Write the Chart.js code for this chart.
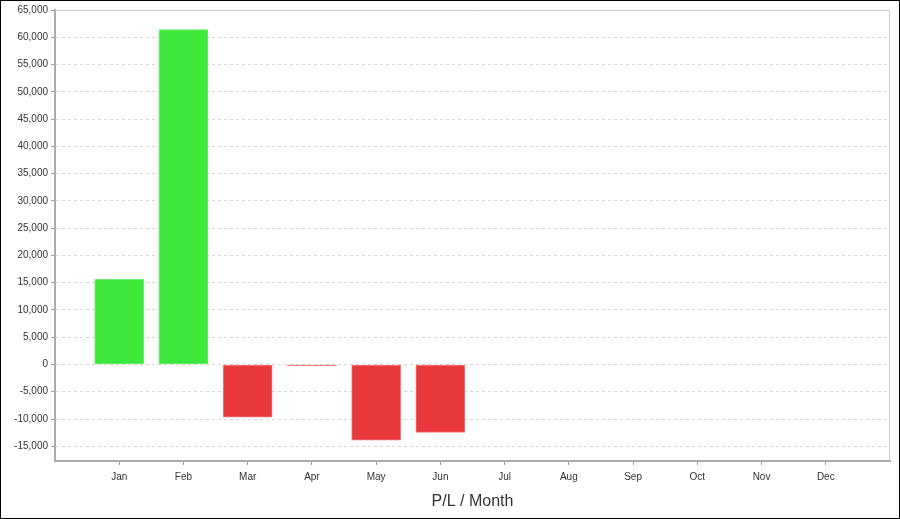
<!DOCTYPE html>
<html>
<head>
<meta charset="utf-8">
<script src="https://cdn.jsdelivr.net/npm/chart.js@4.4.0/dist/chart.umd.min.js"></script>
<style>
  html, body { margin: 0; padding: 0; background: #fff; }
  #wrap { width: 900px; height: 519px; box-sizing: border-box; border: 1px solid #000; position: relative; }
  #c { display: block; }
</style>
</head>
<body>
<div id="wrap"><canvas id="c"></canvas></div>
<script>
  const months = ['Jan', 'Feb', 'Mar', 'Apr', 'May', 'Jun', 'Jul', 'Aug', 'Sep', 'Oct', 'Nov', 'Dec'];
  const pl = [15600, 61400, -9650, -200, -13900, -12450, null, null, null, null, null, null];
  const yTicks = [-15000, -10000, -5000, 0, 5000, 10000, 15000, 20000, 25000, 30000,
    35000, 40000, 45000, 50000, 55000, 60000, 65000];
  const yMin = -17700;
  const yMax = 65000;

  // one empty slot on each side so the months sit half a step in from the frame
  const labels = [''].concat(months, ['']);
  const values = [null].concat(pl, [null]);

  const frame = {
    id: 'frame',
    beforeDatasetsDraw(chart) {
      const a = chart.chartArea;
      const ctx = chart.ctx;
      ctx.save();
      ctx.strokeStyle = '#cfcfcf';
      ctx.lineWidth = 1;
      ctx.beginPath();
      ctx.moveTo(a.left, a.top + 0.5);
      ctx.lineTo(a.right - 0.5, a.top + 0.5);
      ctx.lineTo(a.right - 0.5, a.bottom);
      ctx.stroke();
      ctx.restore();
    }
  };

  const fmt = v => v.toLocaleString('en-US');
  const tickFont = { family: '"Liberation Sans", Arial, sans-serif', size: 10 };

  new Chart(document.getElementById('c'), {
    type: 'bar',
    data: {
      labels,
      datasets: [{
        data: values,
        backgroundColor: values.map(v => v >= 0 ? '#3de83d' : '#e8383c'),
        borderColor: values.map(v => v >= 0 ? '#6ff06f' : '#f07a7c'),
        borderWidth: 1,
        borderSkipped: false,
        barThickness: 49
      }]
    },
    options: {
      responsive: true,
      maintainAspectRatio: false,
      animation: false,
      layout: { padding: { top: 8, right: 9, left: 0, bottom: 0 } },
      plugins: { legend: { display: false }, tooltip: { enabled: false } },
      scales: {
        x: {
          offset: false,
          grid: {
            offset: false,
            drawOnChartArea: false,
            tickLength: 4,
            tickColor: ctx => (ctx.index === 0 || ctx.index === labels.length - 1) ? 'rgba(0,0,0,0)' : '#999'
          },
          border: { color: '#aaa', width: 2 },
          ticks: { color: '#333', font: tickFont, padding: 6, maxRotation: 0, autoSkip: false },
          title: {
            display: true,
            text: 'P/L / Month',
            color: '#333',
            font: { family: '"Liberation Sans", Arial, sans-serif', size: 16 },
            padding: { top: 8, bottom: 7 }
          },
          afterFit: s => { s.height = 57; }
        },
        y: {
          min: yMin,
          max: yMax,
          afterBuildTicks: s => { s.ticks = yTicks.map(v => ({ value: v })); },
          afterFit: s => { s.width = 54; },
          grid: { color: '#d6d6d6', tickColor: '#999', tickLength: 4 },
          border: { color: '#aaa', width: 2, dash: [3, 3] },
          ticks: { color: '#333', font: tickFont, padding: 3, callback: v => fmt(v) }
        }
      }
    },
    plugins: [frame]
  });
</script>
</body>
</html>
